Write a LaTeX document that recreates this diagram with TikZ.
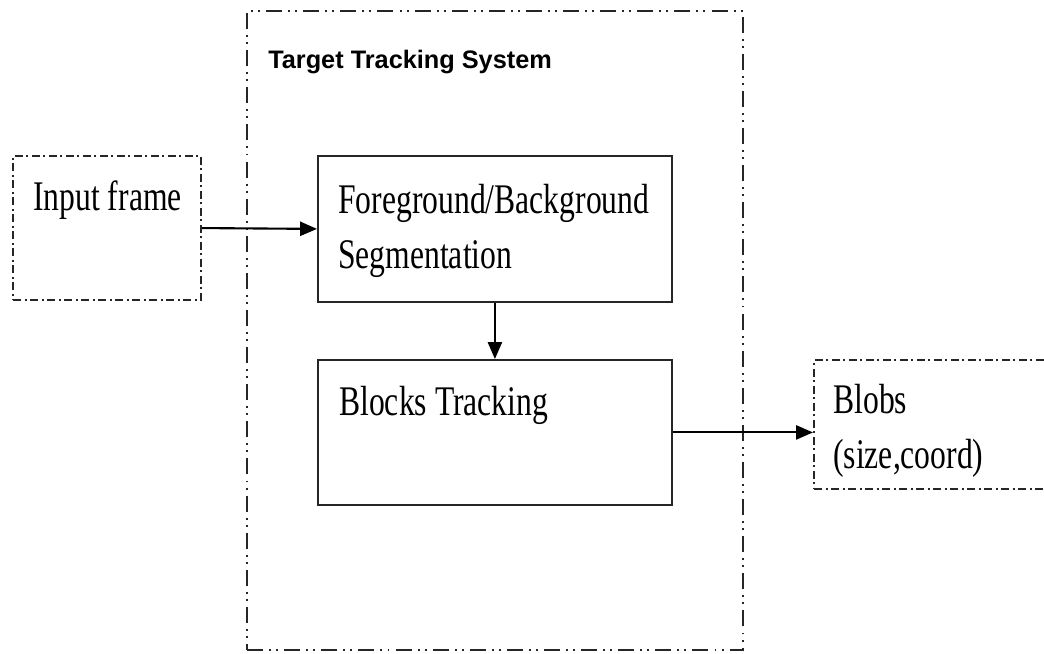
\documentclass[tikz,border=0pt]{standalone}
\usepackage{fontspec}
\newfontfamily\boxfont[FakeStretch=0.75]{Liberation Serif}
\newfontfamily\titlefont{Liberation Sans}
\usepackage{tikz}
\usetikzlibrary{arrows.meta, positioning}

\begin{document}
\begin{tikzpicture}[
  block/.style={rectangle, draw=black!85, line width=1.3pt, anchor=north west, inner sep=0pt},
  sysframe/.style={block, line width=1.5pt,
    dash pattern=on 11.4pt off 4.3pt on 1.4pt off 3.6pt on 1.4pt off 4.3pt},
  ioframe/.style={block, line width=1.5pt,
    dash pattern=on 5.7pt off 2.5pt on 1.4pt off 2.5pt},
  txt/.style={font=\boxfont\fontsize{30}{39}\selectfont, inner sep=0pt, align=left, anchor=base west},
  arrow/.style={-{Triangle[length=12pt, width=10pt]}, line width=1.5pt},
]

\useasboundingbox (0,0) rectangle (26.1,-16.325);
\clip (0,0) rectangle (26.1,-16.325);

% System frame
\node[sysframe, minimum width=12.4cm, minimum height=15.975cm] (sys) at (6.15,-0.25) {};
\node[font=\titlefont\bfseries\fontsize{18}{21}\selectfont, inner sep=0pt, anchor=base west]
  (title) at ([xshift=0.55cm, yshift=-1.45cm]sys.north west) {Target Tracking System};

% Input
\node[ioframe, minimum width=4.7cm, minimum height=3.6cm] (input) at (0.3,-3.875) {};
\node[txt] (inputtxt) at ([xshift=0.525cm, yshift=-1.375cm]input.north west) {Input frame};

% Segmentation
\node[block, minimum width=8.85cm, minimum height=3.65cm] (seg) at (7.925,-3.875) {};
\node[txt] (segtxt) at ([xshift=0.525cm, yshift=-2.825cm]seg.north west)
  {Foreground/Background\\Segmentation};

% Tracking
\node[block, minimum width=8.85cm, minimum height=3.625cm] (blocks) at (7.925,-8.975) {};
\node[txt] (blockstxt) at ([xshift=0.55cm, yshift=-1.4cm]blocks.north west) {Blocks Tracking};

% Output
\node[ioframe, minimum width=7cm, minimum height=3.225cm] (blobs) at (20.325,-8.975) {};
\node[txt] (blobstxt) at ([xshift=0.5cm, yshift=-2.725cm]blobs.north west) {Blobs\\(size,coord)};

% Arrows
\draw[arrow] (input.east) -- (seg.west);
\draw[arrow] (seg.south) -- (blocks.north);
\draw[arrow] (blocks.east) -- (blocks.east -| blobs.west);

\end{tikzpicture}
\end{document}
